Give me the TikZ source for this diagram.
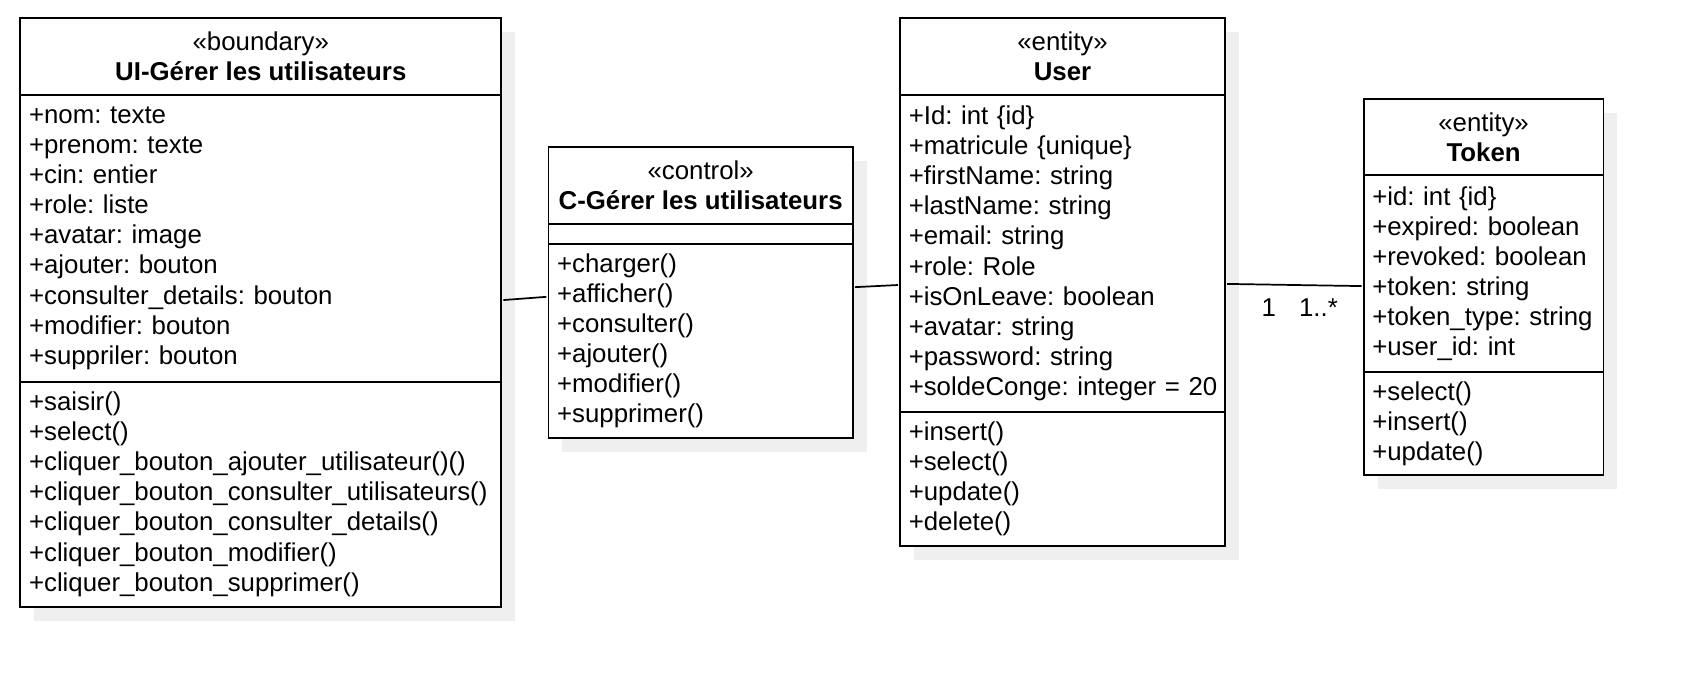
\documentclass[tikz,border=0pt]{standalone}
\usepackage{fontspec}
\setmainfont{Liberation Sans}
\frenchspacing
\usetikzlibrary{positioning,backgrounds}
\definecolor{shadowgray}{HTML}{EFEFEF}
\begin{document}
\begin{tikzpicture}[x=0.5pt, y=-0.5pt, font=\fontsize{12pt}{14pt}\selectfont\frenchspacing,
  head/.style={draw, fill=white, line width=0.9pt, outer sep=0pt, inner sep=3pt, anchor=north west, align=center, minimum height=35.5pt},
  part/.style={draw, fill=white, line width=0.9pt, outer sep=0pt, inner xsep=4pt, inner ysep=3pt, anchor=north west, align=left},
  mult/.style={inner sep=0pt}]
  \useasboundingbox (0,0) rectangle (1564,638);

  % Boundary class
  \node[head, minimum width=223.5pt] (uihead) at (19,17) {«boundary»\\\textbf{UI-Gérer les utilisateurs}};
  \node[part, text width=215.5pt, minimum height=133.5pt, below=0pt of uihead.south west, anchor=north west] (uiattr)
    {+nom: texte\\+prenom: texte\\+cin: entier\\+role: liste\\+avatar: image\\+ajouter: bouton\\+consulter\_details: bouton\\+modifier: bouton\\+suppriler: bouton};
  \node[part, text width=215.5pt, minimum height=104.5pt, below=0pt of uiattr.south west, anchor=north west] (uimeth)
    {+saisir()\\+select()\\+cliquer\_bouton\_ajouter\_utilisateur()()\\+cliquer\_bouton\_consulter\_utilisateurs()\\+cliquer\_bouton\_consulter\_details()\\+cliquer\_bouton\_modifier()\\+cliquer\_bouton\_supprimer()};

  % Control class
  \node[head, minimum width=141.5pt] (ctrlhead) at (510,137) {«control»\\\textbf{C-Gérer les utilisateurs}};
  \node[part, text width=133.5pt, minimum height=9.5pt, below=0pt of ctrlhead.south west, anchor=north west] (ctrlattr) {};
  \node[part, text width=133.5pt, minimum height=90pt, below=0pt of ctrlattr.south west, anchor=north west] (ctrlmeth)
    {+charger()\\+afficher()\\+consulter()\\+ajouter()\\+modifier()\\+supprimer()};

  % User entity
  \node[head, minimum width=151pt] (userhead) at (837,17) {«entity»\\\textbf{User}};
  \node[part, text width=143pt, minimum height=147.5pt, below=0pt of userhead.south west, anchor=north west] (userattr)
    {+Id: int \{id\}\\+matricule \{unique\}\\+firstName: string\\+lastName: string\\+email: string\\+role: Role\\+isOnLeave: boolean\\+avatar: string\\+password: string\\\mbox{+soldeConge: integer = 20}};
  \node[part, text width=143pt, minimum height=62.5pt, below=0pt of userattr.south west, anchor=north west] (usermeth)
    {+insert()\\+select()\\+update()\\+delete()};

  % Token entity
  \node[head, minimum width=111.5pt] (tokenhead) at (1268,92) {«entity»\\\textbf{Token}};
  \node[part, text width=103.5pt, minimum height=91.5pt, below=0pt of tokenhead.south west, anchor=north west] (tokenattr)
    {+id: int \{id\}\\+expired: boolean\\+revoked: boolean\\+token: string\\+token\_type: string\\+user\_id: int};
  \node[part, text width=103.5pt, minimum height=48pt, below=0pt of tokenattr.south west, anchor=north west] (tokenmeth)
    {+select()\\+insert()\\+update()};

  % Shadows
  \begin{scope}[on background layer]
    \fill[shadowgray] ([shift={(13,13)}]uihead.north west) rectangle ([shift={(13,13)}]uimeth.south east);
    \fill[shadowgray] ([shift={(13,13)}]ctrlhead.north west) rectangle ([shift={(13,13)}]ctrlmeth.south east);
    \fill[shadowgray] ([shift={(13,13)}]userhead.north west) rectangle ([shift={(13,13)}]usermeth.south east);
    \fill[shadowgray] ([shift={(13,13)}]tokenhead.north west) rectangle ([shift={(13,13)}]tokenmeth.south east);
  \end{scope}

  % Associations
  \draw[line width=0.8pt] ([shift={(2,57.5)}]uiattr.east) -- ([shift={(-2,-41)}]ctrlmeth.west);
  \draw[line width=0.8pt] ([shift={(2,-50)}]ctrlmeth.east) -- ([shift={(-2,29.5)}]userattr.west);
  \draw[line width=0.8pt] ([shift={(2,28.5)}]userattr.east)
    -- node[mult, pos=0.31, yshift=-10.5pt] {1} node[mult, pos=0.68, yshift=-10.5pt] {1..*}
    ([shift={(-2,11.5)}]tokenattr.west);
\end{tikzpicture}
\end{document}
